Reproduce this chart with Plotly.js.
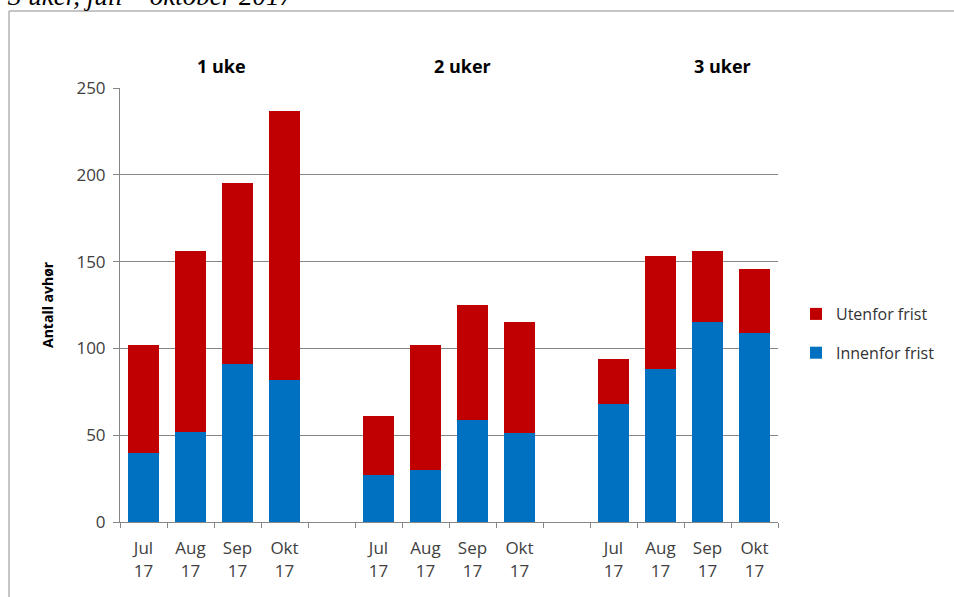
<!DOCTYPE html>
<html>
<head>
<meta charset="utf-8">
<script src="https://cdn.plot.ly/plotly-3.0.1.min.js"></script>
<style>html,body{margin:0;padding:0;background:#fff;}#chart{width:954px;height:597px;}</style>
</head>
<body>
<div id="chart"></div>
<script>
// Data
const groups = ['1 uke', '2 uker', '3 uker'];
const months = ['Jul<br>17', 'Aug<br>17', 'Sep<br>17', 'Okt<br>17'];
const innenfor = [
  [40, 52, 91, 82],
  [27, 30, 59, 51],
  [68, 88, 115, 109]
];
const utenfor = [
  [62, 104, 104, 155],
  [34, 72, 66, 64],
  [26, 65, 41, 37]
];
const seriesNames = ['Innenfor frist', 'Utenfor frist'];
const colors = ['#0070C0', '#C00000'];

// positions: each group has 4 slots plus 1 empty gap slot
const xs = [], inn = [], ute = [], tickvals = [], ticktext = [];
groups.forEach((g, gi) => {
  months.forEach((m, mi) => {
    const x = gi * 5 + mi;
    xs.push(x); inn.push(innenfor[gi][mi]); ute.push(utenfor[gi][mi]);
    tickvals.push(x); ticktext.push(m);
  });
});
const nSlots = groups.length * 5 - 1;
const boundaries = [];
for (let i = 0; i <= nSlots; i++) boundaries.push(i - 0.5);

const font = 'Open Sans, Lato, sans-serif';
const traces = [
  {type: 'bar', x: xs, y: inn, name: seriesNames[0], marker: {color: colors[0]}, legendgroup: 'b', legendrank: 2, hoverinfo: 'y'},
  {type: 'bar', x: xs, y: ute, name: seriesNames[1], marker: {color: colors[1]}, legendgroup: 'a', legendrank: 1, hoverinfo: 'y'},
  {type: 'scatter', x: [0], y: [0], xaxis: 'x2', mode: 'markers', marker: {opacity: 0}, showlegend: false, hoverinfo: 'skip'}
];

const L = 120, R = 778, T = 88, B = 522;
const pw = R - L, ph = B - T;
const px2x = p => (p - L) / pw;
const py2y = p => (B - p) / ph;

const groupTitlePx = [221, 462, 722];
const annotations = groups.map((g, i) => ({
  text: '<b>' + g + '</b>', xref: 'paper', yref: 'paper', x: px2x(groupTitlePx[i]), y: py2y(66),
  showarrow: false, font: {family: font, size: 18, color: '#000'}, xanchor: 'center', yanchor: 'middle'
}));
annotations.push({
  text: '<b>Antall avhør</b>', xref: 'paper', yref: 'paper', x: px2x(47), y: 0.5, textangle: -90,
  showarrow: false, font: {family: font, size: 14, color: '#000'}, xanchor: 'center', yanchor: 'middle'
});
annotations.push({
  text: '<i>3 uker, juli – oktober 2017</i>', xref: 'paper', yref: 'paper', x: px2x(5), y: py2y(-4),
  showarrow: false, font: {family: 'Liberation Serif, serif', size: 27, color: '#000'}, xanchor: 'left', yanchor: 'middle'
});

const layout = {
  width: 954, height: 597,
  margin: {l: L, r: 954 - R, t: T, b: 597 - B},
  paper_bgcolor: '#fff', plot_bgcolor: '#fff',
  barmode: 'stack', bargap: 0.34,
  showlegend: true,
  legend: {x: px2x(796), y: py2y(297), xanchor: 'left', yanchor: 'top', traceorder: 'grouped', tracegroupgap: 15,
           font: {family: font, size: 16, color: '#333'}, bgcolor: 'rgba(0,0,0,0)', itemwidth: 30},
  xaxis: {range: [-0.5, nSlots - 0.5], tickmode: 'array', tickvals: tickvals, ticktext: ticktext, ticks: '',
          showline: true, linecolor: '#868686', linewidth: 1, showgrid: false, zeroline: false,
          tickfont: {family: font, size: 17, color: '#404040'}, ticklabelstandoff: 11, fixedrange: true},
  xaxis2: {overlaying: 'x', range: [-0.5, nSlots - 0.5], tickmode: 'array', tickvals: boundaries, ticks: 'outside',
           ticklen: 5, tickcolor: '#868686', showticklabels: false, showgrid: false, zeroline: false, showline: false, side: 'bottom', anchor: 'y'},
  yaxis: {range: [0, 250], dtick: 50, tick0: 0, showgrid: true, gridcolor: '#868686', gridwidth: 1,
          showline: true, linecolor: '#868686', linewidth: 1, ticks: 'outside', ticklen: 6, tickcolor: '#868686',
          zeroline: false, tickfont: {family: font, size: 17, color: '#404040'}, ticklabelstandoff: 4},
  annotations: annotations,
  shapes: [{type: 'rect', xref: 'paper', yref: 'paper', x0: px2x(9), x1: px2x(1100), y0: py2y(700), y1: py2y(11),
            line: {color: '#8c8c8c', width: 1}, fillcolor: 'rgba(0,0,0,0)', layer: 'below'}]
};

Plotly.newPlot('chart', traces, layout, {displayModeBar: false, staticPlot: true});
</script>
</body>
</html>
